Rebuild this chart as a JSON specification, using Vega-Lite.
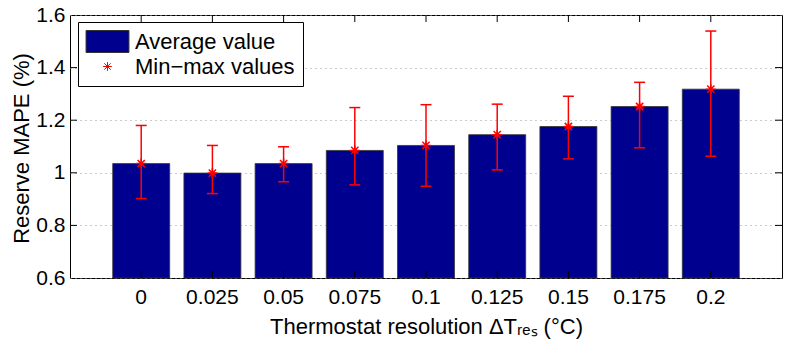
{
  "$schema": "https://vega.github.io/schema/vega-lite/v6.json",
  "width": 712,
  "height": 263,
  "autosize": {"type": "none"},
  "padding": {"left": 70, "top": 15, "right": 7, "bottom": 72},
  "background": "#ffffff",
  "config": {
    "font": "Liberation Sans",
    "view": {"stroke": "#000000", "strokeWidth": 1},
    "axis": {"labelColor": "#000000", "titleColor": "#000000", "titleFontWeight": "normal", "labelFont": "Liberation Sans", "titleFont": "Liberation Sans"},
    "legend": {
      "orient": "none", "legendX": 8, "legendY": 7, "title": null, "direction": "vertical",
      "fillColor": "#ffffff", "strokeColor": "#000000", "padding": 8,
      "labelFontSize": 22, "labelFont": "Liberation Sans", "labelColor": "#000000", "labelLimit": 400,
      "symbolSize": 484, "symbolStrokeWidth": 1, "rowPadding": 0, "labelOffset": 16, "symbolOffset": 10, "symbolOpacity": 1
    }
  },
  "datasets": {
    "bars": [
      {"res": "0", "avg": 1.035, "min": 0.902, "max": 1.180},
      {"res": "0.025", "avg": 0.999, "min": 0.921, "max": 1.104},
      {"res": "0.05", "avg": 1.035, "min": 0.966, "max": 1.099},
      {"res": "0.075", "avg": 1.085, "min": 0.954, "max": 1.248},
      {"res": "0.1", "avg": 1.104, "min": 0.949, "max": 1.259},
      {"res": "0.125", "avg": 1.145, "min": 1.011, "max": 1.261},
      {"res": "0.15", "avg": 1.176, "min": 1.053, "max": 1.291},
      {"res": "0.175", "avg": 1.252, "min": 1.095, "max": 1.344},
      {"res": "0.2", "avg": 1.318, "min": 1.063, "max": 1.539}
    ],
    "yticks": [
      {"tick": 0.8}, {"tick": 1.0}, {"tick": 1.2}, {"tick": 1.4}
    ]
  },
  "data": {"name": "bars"},
  "layer": [
    {
      "mark": {"type": "bar", "strokeWidth": 0.8},
      "encoding": {
        "x": {
          "field": "res", "type": "nominal", "sort": null,
          "scale": {"paddingInner": 0.2, "paddingOuter": 0.6},
          "axis": {
            "orient": "bottom", "title": "Thermostat resolution ΔTᵣₑₛ (°C)",
            "labelAngle": 0, "ticks": false, "domain": false, "grid": false,
            "labelFontSize": 21, "labelBaseline": "alphabetic", "labelPadding": 25,
            "titleFontSize": 22, "titleX": 356, "titleY": 55, "titleBaseline": "alphabetic", "titleAlign": "center"
          }
        },
        "y": {
          "field": "avg", "type": "quantitative",
          "scale": {"domain": [0.6, 1.6], "nice": false, "zero": false},
          "axis": {
            "orient": "left", "values": [0.6, 0.8, 1, 1.2, 1.4, 1.6], "format": "~g",
            "grid": true, "gridDash": [1, 4], "gridColor": "#999999", "gridWidth": 1,
            "domain": false, "ticks": false, "labelPadding": 5,
            "labelFontSize": 21, "labelBaseline": "middle",
            "title": "Reserve MAPE (%)", "titleFontSize": 22, "titleX": -42, "titleY": 133,
            "titleAngle": 270, "titleBaseline": "alphabetic", "titleAlign": "center"
          }
        },
        "y2": {"datum": 0.6},
        "fill": {
          "datum": "Average value", "type": "nominal",
          "scale": {"domain": ["Average value", "Min−max values"], "range": ["#00008F", "transparent"]},
          "legend": {"title": null}
        },
        "stroke": {
          "datum": "Average value", "type": "nominal",
          "scale": {"domain": ["Average value", "Min−max values"], "range": ["#333333", "#FF0000"]},
          "legend": {"title": null}
        }
      }
    },
    {
      "mark": {"type": "rule", "color": "#FF0000", "strokeWidth": 1.5},
      "encoding": {
        "x": {"field": "res", "type": "nominal", "sort": null, "axis": null},
        "y": {"field": "min", "type": "quantitative", "axis": null},
        "y2": {"field": "max"}
      }
    },
    {
      "mark": {"type": "tick", "color": "#FF0000", "thickness": 1.5, "size": 11, "orient": "horizontal", "opacity": 1},
      "encoding": {
        "x": {"field": "res", "type": "nominal", "sort": null, "axis": null},
        "y": {"field": "min", "type": "quantitative", "axis": null}
      }
    },
    {
      "mark": {"type": "tick", "color": "#FF0000", "thickness": 1.5, "size": 11, "orient": "horizontal", "opacity": 1},
      "encoding": {
        "x": {"field": "res", "type": "nominal", "sort": null, "axis": null},
        "y": {"field": "max", "type": "quantitative", "axis": null}
      }
    },
    {
      "mark": {"type": "point", "size": 625, "filled": false, "strokeWidth": 1.5, "opacity": 1},
      "encoding": {
        "x": {"field": "res", "type": "nominal", "sort": null, "axis": null},
        "y": {"field": "avg", "type": "quantitative", "axis": null},
        "stroke": {"datum": "Min−max values", "type": "nominal"},
        "shape": {
          "datum": "Min−max values", "type": "nominal",
          "scale": {"domain": ["Average value", "Min−max values"], "range": ["M-1.95,-1H1.95V1H-1.95Z", "M0,-0.4V0.4M-0.4,0H0.4M-0.29,-0.29L0.29,0.29M-0.29,0.29L0.29,-0.29"]},
          "legend": {"title": null}
        }
      }
    },
    {
      "mark": {"type": "rule", "color": "#000000", "strokeWidth": 1, "opacity": 1, "strokeDash": [7, 249, 7, 1000]},
      "encoding": {
        "x": {"field": "res", "type": "nominal", "sort": null, "axis": null}
      }
    },
    {
      "data": {"name": "yticks"},
      "mark": {"type": "rule", "color": "#000000", "strokeWidth": 1, "opacity": 1, "strokeDash": [7, 698, 7, 1000]},
      "encoding": {
        "y": {"field": "tick", "type": "quantitative", "axis": null}
      }
    }
  ],
  "resolve": {"axis": {"x": "independent", "y": "independent"}}
}
